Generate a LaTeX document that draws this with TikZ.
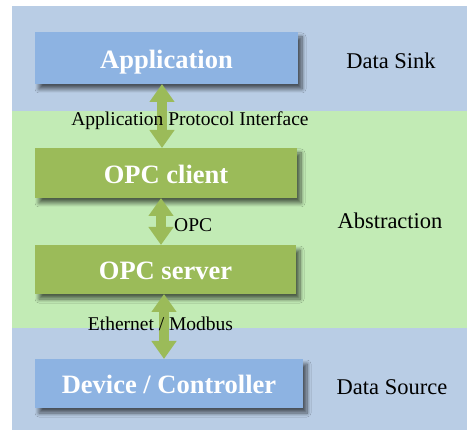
\documentclass[tikz,border=0pt]{standalone}
\usepackage{fontspec}
\setmainfont{Liberation Serif}
\usetikzlibrary{shadows.blur,arrows.meta}
\definecolor{bandblue}{HTML}{B9CDE5}
\definecolor{bandgreen}{HTML}{C2EBB5}
\definecolor{boxblue}{HTML}{8DB3E2}
\definecolor{boxgreen}{HTML}{9BBB59}
\tikzset{
  box/.style={draw=none,inner sep=0pt,outer sep=0pt,text=white,
    text height=23pt,text depth=2.5pt,
    font=\fontsize{26.5}{30}\selectfont\bfseries,
    blur shadow={shadow xshift=4pt,shadow yshift=-5pt,shadow blur steps=8,shadow blur radius=4pt,shadow opacity=60}},
  bluebox/.style={box,fill=boxblue},
  greenbox/.style={box,fill=boxgreen},
  sidelabel/.style={font=\fontsize{22.5}{26}\selectfont,inner sep=0pt},
  linklabel/.style={font=\fontsize{19.5}{22}\selectfont,inner sep=0pt},
  link/.style={draw=boxgreen,line width=10pt,
    {Triangle[width=24pt,length=18pt]}-{Triangle[width=24pt,length=18pt]}}
}
\begin{document}
\begin{tikzpicture}[x=1pt,y=1pt]
\useasboundingbox (0,0) rectangle (467,-430);
% bands
\fill[bandblue] (12,-6) rectangle (467,-111);
\fill[bandgreen] (12,-111) rectangle (467,-328);
\fill[bandblue] (12,-328) rectangle (467,-430);
% boxes
\node[bluebox,minimum width=263pt,minimum height=52pt] (app) at (166.5,-58) {Application};
\node[greenbox,minimum width=262pt,minimum height=50pt] (cli) at (166,-173) {OPC client};
\node[greenbox,minimum width=261pt,minimum height=49pt] (srv) at (165.5,-269.5) {OPC server};
\node[bluebox,minimum width=268pt,minimum height=49pt] (dev) at (169,-383.5) {Device / Controller};
% connectors
\coordinate (a1) at (162,-84);
\coordinate (a2) at (162,-148);
\draw[link] (a1) -- (a2);
\coordinate (b1) at (161,-198);
\coordinate (b2) at (161,-245);
\draw[link] (b1) -- (b2);
\coordinate (c1) at (164,-294);
\coordinate (c2) at (164,-359);
\draw[link] (c1) -- (c2);
% link labels
\node[linklabel] (l1) at (190,-121) {Application Protocol Interface};
\node[linklabel,anchor=west] (l2) at (174,-225) {OPC};
\node[linklabel] (l3) at (160.5,-324) {Ethernet / Modbus};
% side labels
\node[sidelabel] (s1) at (391,-61) {Data Sink};
\node[sidelabel] (s2) at (390,-221) {Abstraction};
\node[sidelabel] (s3) at (392,-387) {Data Source};
\end{tikzpicture}
\end{document}
